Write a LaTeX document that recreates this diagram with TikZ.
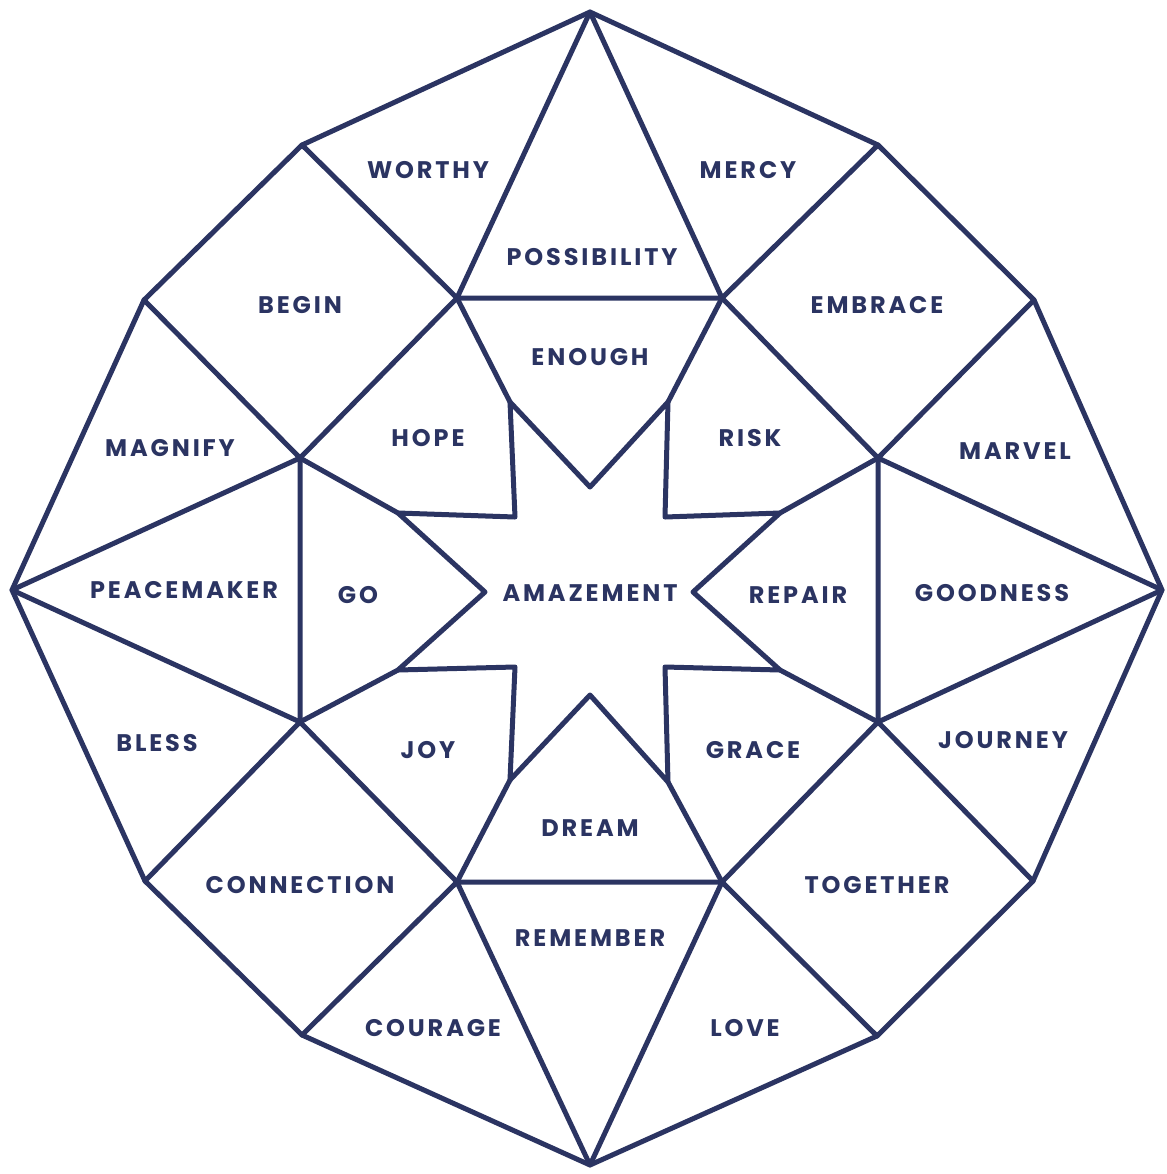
\documentclass[tikz,border=0pt]{standalone}
\usepackage{fontspec}
\setmainfont{Poppins}[LetterSpace=12]
\definecolor{navy}{HTML}{2B3462}
\begin{document}
\begin{tikzpicture}[x=0.5pt,y=-0.5pt,
  edge/.style={draw=navy,line width=2.5pt,line join=round,line cap=round},
  lbl/.style={text=navy,font=\fontsize{12}{14}\selectfont\bfseries,inner sep=0pt}]
\useasboundingbox[fill=white] (0,0) rectangle (1167,1174);
% outer vertices
\coordinate (O1) at (590,12);
\coordinate (O2) at (878,145);
\coordinate (O3) at (1034,300);
\coordinate (O4) at (1162,590);
\coordinate (O5) at (1033,881);
\coordinate (O6) at (877,1036);
\coordinate (O7) at (590,1165);
\coordinate (O8) at (302,1035);
\coordinate (O9) at (145,881);
\coordinate (O10) at (12,590);
\coordinate (O11) at (144,300);
\coordinate (O12) at (302,145);
% inner octagon
\coordinate (I1) at (457,298);
\coordinate (I2) at (722,298);
\coordinate (I3) at (878,458);
\coordinate (I4) at (878,722);
\coordinate (I5) at (722,882);
\coordinate (I6) at (457,882);
\coordinate (I7) at (300,722);
\coordinate (I8) at (300,458);
% star
\coordinate (S1) at (510,402);
\coordinate (N1) at (590,487);
\coordinate (S2) at (668,402);
\coordinate (C2) at (665,517);
\coordinate (S3) at (780,513);
\coordinate (N2) at (693,592);
\coordinate (S4) at (780,670);
\coordinate (C3) at (665,667);
\coordinate (S5) at (668,782);
\coordinate (N3) at (590,695);
\coordinate (S6) at (510,780);
\coordinate (C4) at (515,667);
\coordinate (S7) at (398,670);
\coordinate (N4) at (485,592);
\coordinate (S8) at (398,513);
\coordinate (C1) at (515,517);

\draw[edge] (O1)--(O2)--(O3)--(O4)--(O5)--(O6)--(O7)--(O8)--(O9)--(O10)--(O11)--(O12)--cycle;
\draw[edge] (I1)--(I2)--(I3)--(I4)--(I5)--(I6)--(I7)--(I8)--cycle;
\draw[edge] (S1)--(N1)--(S2)--(C2)--(S3)--(N2)--(S4)--(C3)--(S5)--(N3)--(S6)--(C4)--(S7)--(N4)--(S8)--(C1)--cycle;
\foreach \i in {1,...,8} {\draw[edge] (I\i)--(S\i);}
\draw[edge] (I1)--(O1)--(I2);
\draw[edge] (O12)--(I1);
\draw[edge] (O2)--(I2);
\draw[edge] (O11)--(I8);
\draw[edge] (O3)--(I3);
\draw[edge] (I8)--(O10)--(I7);
\draw[edge] (I3)--(O4)--(I4);
\draw[edge] (O9)--(I7);
\draw[edge] (O5)--(I4);
\draw[edge] (O8)--(I6);
\draw[edge] (O6)--(I5);
\draw[edge] (I6)--(O7)--(I5);

\node[lbl] (worthy) at (428,170) {WORTHY};
\node[lbl] (mercy) at (748,170) {MERCY};
\node[lbl] (possibility) at (592,257) {POSSIBILITY};
\node[lbl] (begin) at (300,305) {BEGIN};
\node[lbl] (embrace) at (877,305) {EMBRACE};
\node[lbl] (enough) at (590,357) {ENOUGH};
\node[lbl] (hope) at (428,438) {HOPE};
\node[lbl] (risk) at (750,438) {RISK};
\node[lbl] (magnify) at (170,448) {MAGNIFY};
\node[lbl] (marvel) at (1015,451) {MARVEL};
\node[lbl] (peacemaker) at (184,590) {PEACEMAKER};
\node[lbl] (go) at (358,595) {GO};
\node[lbl] (amazement) at (590,593) {AMAZEMENT};
\node[lbl] (repair) at (798,595) {REPAIR};
\node[lbl] (goodness) at (992,593) {GOODNESS};
\node[lbl] (bless) at (157,743) {BLESS};
\node[lbl] (joy) at (428,750) {JOY};
\node[lbl] (grace) at (753,750) {GRACE};
\node[lbl] (journey) at (1003,740) {JOURNEY};
\node[lbl] (dream) at (590,828) {DREAM};
\node[lbl] (connection) at (300,885) {CONNECTION};
\node[lbl] (together) at (877,885) {TOGETHER};
\node[lbl] (remember) at (590,938) {REMEMBER};
\node[lbl] (courage) at (433,1028) {COURAGE};
\node[lbl] (love) at (745,1028) {LOVE};
\end{tikzpicture}
\end{document}
